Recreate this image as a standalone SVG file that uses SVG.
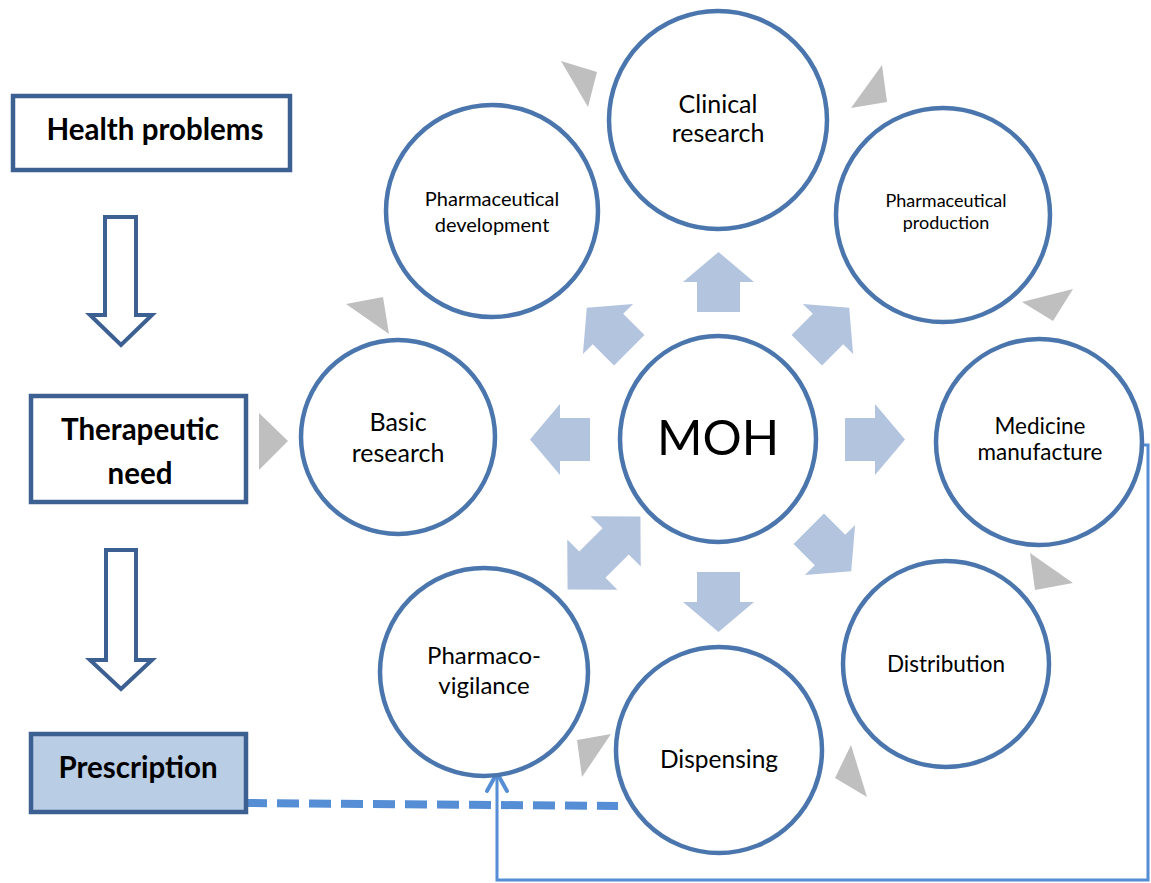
<svg xmlns="http://www.w3.org/2000/svg" width="1151" height="883" viewBox="0 0 1151 883">
<style>
.c{fill:#fff;stroke:#4A76AD;stroke-width:4.5}
.t{font-family:Lato,"Open Sans","Liberation Sans",sans-serif;fill:#000;text-anchor:middle}
.b{fill:#fff;stroke:#3C6091;stroke-width:4.5}
.bt{font-family:Lato,"Liberation Sans",sans-serif;font-weight:bold;font-size:29.5px;fill:#000;text-anchor:middle}
.ar{fill:#B3C4DF}
.g{fill:#BFBFBF}
.big{fill:#fff;stroke:#3C6091;stroke-width:4}
</style>
<defs>
<path id="arr" d="M0,-30 L35.5,0 L21.5,0 L21.5,30 L-21.5,30 L-21.5,0 L-35.5,0 Z"/>
</defs>
<rect width="1151" height="883" fill="#fff"/>

<g id="connectors" fill="none">
<path d="M245,803 L618,806" stroke="#558ED5" stroke-width="8" stroke-dasharray="22 10"/>
<polyline points="1142,445 1148,445 1148,880 497,880 497,773" stroke="#558ED5" stroke-width="3"/>
<path d="M487,791 L497,773 L507,791" stroke="#558ED5" stroke-width="4" stroke-linecap="round" stroke-linejoin="round"/>
</g>

<g id="health-problems">
<rect class="b" x="13" y="96" width="277" height="74"/>
<text class="bt" x="155" y="140">Health problems</text>
</g>
<g id="arrow-1"><path class="big" d="M105,217 H136 V315 H152 L121,345 L90,315 H105 Z"/></g>
<g id="therapeutic-need">
<rect class="b" x="31" y="396" width="215" height="106"/>
<text class="bt" x="140" y="440">Therapeutic</text>
<text class="bt" x="140" y="484">need</text>
</g>
<g id="arrow-2"><path class="big" d="M106,550 H136 V660 H152 L121,689 L90,660 H106 Z"/></g>
<g id="prescription">
<rect x="31" y="734" width="215" height="78" fill="#B9CDE5" stroke="#3C6091" stroke-width="4.5"/>
<text class="bt" x="138" y="778">Prescription</text>
</g>

<g id="gray-arrows">
<polygon class="g" points="561,61 597,72 588,107"/>
<polygon class="g" points="882,65 887,102 851,108"/>
<polygon class="g" points="1073,289 1053,321 1022,302"/>
<polygon class="g" points="1030,553 1073,583 1035,590"/>
<polygon class="g" points="851,745 867,797 835,778"/>
<polygon class="g" points="577,740 611,734 582,777"/>
<polygon class="g" points="346,304 383,297 389,334"/>
<polygon class="g" points="259,413 288,441 259,470"/>
</g>

<g id="moh-arrows">
<use href="#arr" class="ar" transform="translate(718.5,282)"/>
<use href="#arr" class="ar" transform="translate(718.5,602) rotate(180)"/>
<use href="#arr" class="ar" transform="translate(560,439.5) rotate(-90)"/>
<use href="#arr" class="ar" transform="translate(875,439.5) rotate(90)"/>
<use href="#arr" class="ar" transform="translate(608,329) rotate(-45)"/>
<use href="#arr" class="ar" transform="translate(828,329) rotate(45)"/>
<use href="#arr" class="ar" transform="translate(830,550) rotate(135)"/>
<path class="ar" transform="translate(604,553) rotate(-45)" d="M-51.5,0 L-16.5,-35.5 L-16.5,-18.5 L16.5,-18.5 L16.5,-35.5 L51.5,0 L16.5,35.5 L16.5,18.5 L-16.5,18.5 L-16.5,35.5 Z"/>
</g>

<g id="clinical-research">
<circle class="c" cx="718" cy="120" r="109"/>
<text class="t" font-size="25" x="718" y="113">Clinical</text>
<text class="t" font-size="25" x="718" y="142">research</text>
</g>
<g id="pharmaceutical-development">
<circle class="c" cx="492" cy="211" r="106"/>
<text class="t" font-size="20" x="492" y="206">Pharmaceutical</text>
<text class="t" font-size="20" x="492" y="232">development</text>
</g>
<g id="pharmaceutical-production">
<circle class="c" cx="943" cy="215" r="107"/>
<text class="t" font-size="18" x="946" y="207">Pharmaceutical</text>
<text class="t" font-size="18" x="946" y="229">production</text>
</g>
<g id="basic-research">
<circle class="c" cx="398" cy="437" r="97"/>
<text class="t" font-size="25" x="398" y="431">Basic</text>
<text class="t" font-size="25" x="398" y="462">research</text>
</g>
<g id="moh">
<ellipse class="c" cx="718" cy="439" rx="98" ry="103"/>
<text class="t" font-size="49" x="718" y="455">MOH</text>
</g>
<g id="medicine-manufacture">
<circle class="c" cx="1039" cy="442" r="103"/>
<text class="t" font-size="22.5" x="1040" y="434">Medicine</text>
<text class="t" font-size="22.5" x="1040" y="460">manufacture</text>
</g>
<g id="distribution">
<circle class="c" cx="946" cy="664" r="103"/>
<text class="t" font-size="22.5" x="946" y="672">Distribution</text>
</g>
<g id="pharmacovigilance">
<circle class="c" cx="484" cy="672" r="104"/>
<text class="t" font-size="24" x="484" y="664">Pharmaco-</text>
<text class="t" font-size="24" x="484" y="694">vigilance</text>
</g>
<g id="dispensing">
<circle class="c" cx="719" cy="750" r="103"/>
<text class="t" font-size="24.5" x="719" y="768">Dispensing</text>
</g>
</svg>
